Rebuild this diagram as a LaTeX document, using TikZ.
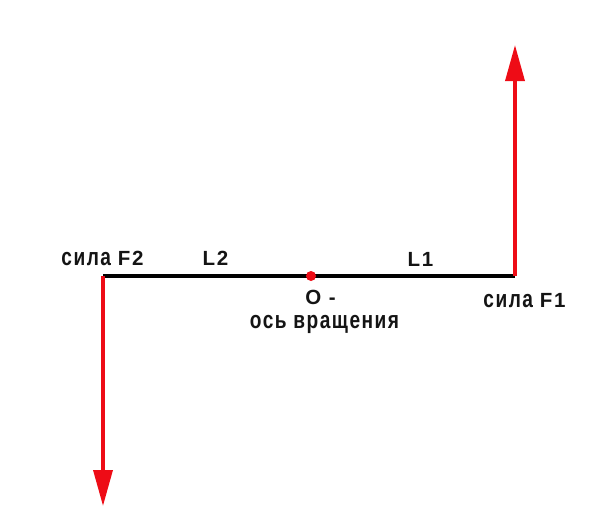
\documentclass[tikz,border=0pt]{standalone}
\usepackage{fontspec}
\setmainfont{Liberation Sans}
\newfontfamily\cyrfam{Liberation Sans}[FakeStretch=0.78, LetterSpace=6]
\newfontfamily\latfam{Liberation Sans}[LetterSpace=9]
\newcommand\cyt[1]{{\cyrfam\bfseries\fontsize{24.5}{28}\selectfont #1}}
\newcommand\lat[1]{{\latfam\bfseries\fontsize{20.5}{24}\selectfont #1}}
\usetikzlibrary{arrows.meta}
\definecolor{fred}{RGB}{238,12,22}
\begin{document}
\begin{tikzpicture}[x=1pt,y=-1pt,
  lbl/.style={anchor=base, inner sep=0pt, text=black!92},
  force/.style={draw=fred, line width=3.5pt, -{Triangle[length=36pt,width=19pt]}, fill=fred},
  beam/.style={draw=black, line width=3.5pt}]
\useasboundingbox (0,0) rectangle (600,530);
\coordinate (A) at (103,276);
\coordinate (B) at (515,276);
\coordinate (T1) at (515,45);
\coordinate (T2) at (103,506);
\draw[beam] (A) -- (B);
\draw[force] (B) -- (T1);
\draw[force] (A) -- (T2);
\node[circle, fill=fred, minimum size=10pt, inner sep=0pt] (O) at (311,276) {};
\node[lbl] (f2) at (102.5,265.5) {\cyt{сила }\lat{F2}};
\node[lbl] (l2) at (215.5,265) {\lat{L2}};
\node[lbl] (l1) at (420.5,266) {\lat{L1}};
\node[lbl] (o) at (320.5,304) {\lat{O -}};
\node[lbl] (axis) at (324.5,328) {\cyt{ось вращения}};
\node[lbl] (f1) at (524.5,307) {\cyt{сила }\lat{F1}};
\end{tikzpicture}
\end{document}
